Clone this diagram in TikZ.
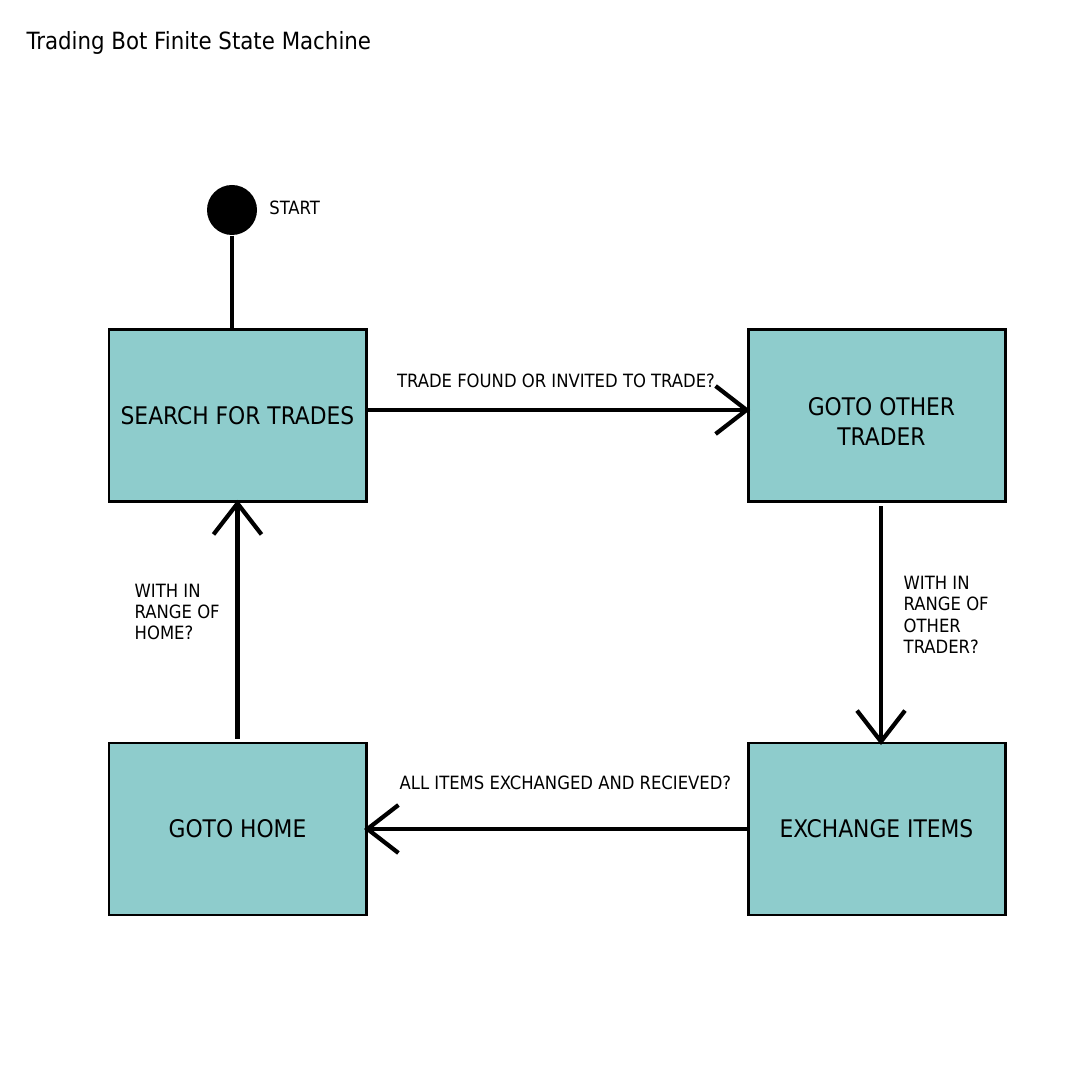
\documentclass[tikz,border=0pt]{standalone}
\usepackage{fontspec}
\setmainfont{DejaVu Sans Condensed}
\usetikzlibrary{positioning,calc,arrows.meta}
\definecolor{StateTeal}{RGB}{142,204,204}

\begin{document}
\begin{tikzpicture}[
    state/.style={draw=black, line width=0.85pt, fill=StateTeal, minimum width=2.57cm, minimum height=1.72cm, inner sep=0pt, align=center, font=\fontsize{6.9}{8.6}\selectfont},
    trans/.style={line width=1.2pt, shorten >=-0.035cm, -{Straight Barb[length=0.31cm, width=0.48cm]}},
    cond/.style={inner sep=0pt, align=left, font=\fontsize{5.2}{6.1}\selectfont}
  ]
      \useasboundingbox (0,0) rectangle (10.8,10.8);

      % Title
      \node[anchor=base west, inner sep=0pt, font=\fontsize{6.75}{8}\selectfont] (title) at (0.26,10.30) {Trading Bot Finite State Machine};

      % States
      \node[state] (search) at (2.375,6.64) {SEARCH FOR TRADES};
      \node[state] (gotoTrader) at (8.765,6.64) {\hspace*{0.1cm}\rule{0pt}{0.29cm}GOTO OTHER\\\hspace*{0.1cm}TRADER};
      \node[state] (gotoHome) at (2.375,2.51) {GOTO HOME};
      \node[state] (exchange) at (8.765,2.51) {EXCHANGE ITEMS};

      % Start
      \node[circle, fill=black, minimum size=0.5cm, inner sep=0pt] (start) at (2.32,8.70) {};
      \node[cond, right=0.11cm of start, yshift=0.02cm] (startLabel) {START};
      \draw[line width=1.2pt] (start.south) -- (start.south |- search.north);

      % Transitions
      \draw[trans] ($(search.east)+(0,0.06)$) -- ($(gotoTrader.west)+(0,0.06)$);
      \node[cond, anchor=center] (foundLabel) at (5.56,6.99) {TRADE FOUND OR INVITED TO TRADE?};

      \draw[trans] ($(gotoTrader.south)+(0.045,-0.03)$) -- ($(exchange.north)+(0.045,0)$);
      \node[cond, anchor=west] (traderLabel) at (9.03,4.65) {WITH IN\\RANGE OF\\OTHER\\TRADER?};

      \draw[trans] (exchange.west) -- (gotoHome.east);
      \node[cond, anchor=center] (itemsLabel) at (5.655,2.97) {ALL ITEMS EXCHANGED AND RECIEVED?};

      \draw[trans] ($(gotoHome.north)+(0,0.03)$) -- (search.south);
      \node[cond, anchor=west] (homeLabel) at (1.34,4.68) {WITH IN\\RANGE OF\\HOME?};
\end{tikzpicture}
\end{document}
